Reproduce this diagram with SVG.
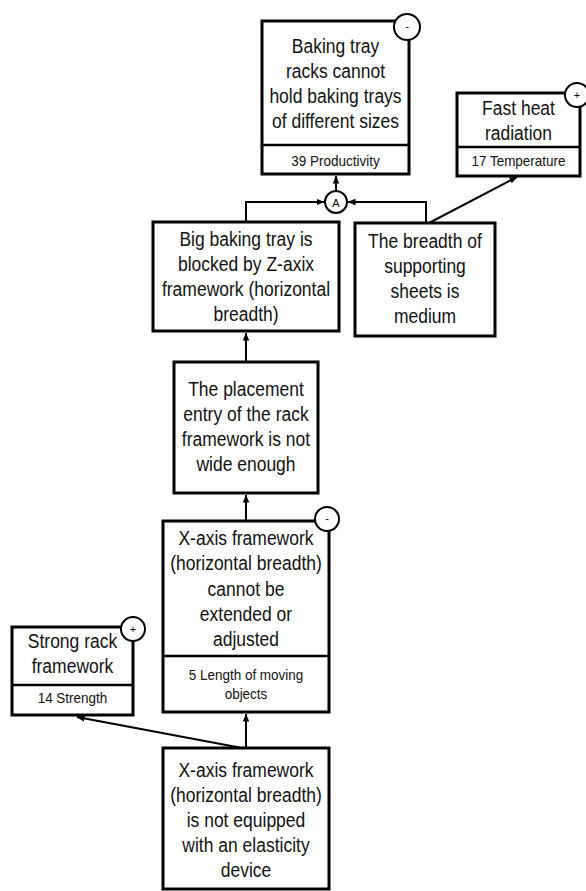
<svg xmlns="http://www.w3.org/2000/svg" width="586" height="891" viewBox="0 0 586 891">
  <style>
    .box { fill: #ffffff; stroke: #000000; stroke-width: 3; }
    .div { stroke: #000000; stroke-width: 2.5; }
    .tag { fill: #ffffff; stroke: #000000; stroke-width: 2; }
    .t { font-family: "Liberation Sans", Arial, sans-serif; font-size: 17.5px; fill: #111111; text-anchor: middle; }
    .s { font-family: "Liberation Sans", Arial, sans-serif; font-size: 13.5px; fill: #111111; text-anchor: middle; }
    .sym { font-family: "Liberation Sans", Arial, sans-serif; font-size: 11px; fill: #000000; text-anchor: middle; }
    .con { fill: none; stroke: #000000; stroke-width: 2; }
  </style>
  <defs>
    <marker id="arrow" viewBox="0 0 8 8" refX="7.5" refY="4" markerWidth="8" markerHeight="8" markerUnits="userSpaceOnUse" orient="auto">
      <path d="M0,0.8 L8,4 L0,7.2 Z" fill="#000000"/>
    </marker>
  </defs>
  <rect width="586" height="891" fill="#ffffff"/>

  <!-- connectors -->
  <g id="connectors">
    <line class="con" x1="336" y1="191" x2="336" y2="176" marker-end="url(#arrow)"/>
    <polyline class="con" points="246,222 246,202 324,202" marker-end="url(#arrow)"/>
    <polyline class="con" points="426,223 426,202 348,202" marker-end="url(#arrow)"/>
    <line class="con" x1="429" y1="223" x2="517" y2="177" marker-end="url(#arrow)"/>
    <line class="con" x1="246" y1="362" x2="246" y2="333" marker-end="url(#arrow)"/>
    <line class="con" x1="246" y1="521" x2="246" y2="495" marker-end="url(#arrow)"/>
    <line class="con" x1="246" y1="748" x2="246" y2="714" marker-end="url(#arrow)"/>
    <line class="con" x1="242" y1="748" x2="77" y2="717" marker-end="url(#arrow)"/>
    <circle class="tag" cx="336" cy="202" r="11"/>
    <text class="sym" x="336" y="206.5" font-size="12">A</text>
  </g>

  <!-- problem: tray racks -->
  <g id="node-tray-racks">
    <rect class="box" x="262" y="21" width="147" height="153"/>
    <line class="div" x1="262" y1="145" x2="409" y2="145"/>
    <text class="t" x="335.5" y="53" transform="matrix(1 0 0 1.15 0 -7.95)">Baking tray</text>
    <text class="t" x="335.5" y="78" transform="matrix(1 0 0 1.15 0 -11.7)">racks cannot</text>
    <text class="t" x="335.5" y="103" transform="matrix(1 0 0 1.15 0 -15.45)">hold baking trays</text>
    <text class="t" x="335.5" y="128" transform="matrix(1 0 0 1.15 0 -19.2)">of different sizes</text>
    <text class="s" x="335.5" y="166" transform="matrix(1 0 0 1.15 0 -24.9)">39 Productivity</text>
    <circle class="tag" cx="407" cy="27" r="13"/>
    <text class="sym" x="407" y="30">-</text>
  </g>

  <!-- benefit: heat radiation -->
  <g id="node-heat">
    <rect class="box" x="457" y="93" width="123" height="83"/>
    <line class="div" x1="457" y1="147" x2="580" y2="147"/>
    <text class="t" x="518.5" y="115" transform="matrix(1 0 0 1.15 0 -17.25)">Fast heat</text>
    <text class="t" x="518.5" y="140" transform="matrix(1 0 0 1.15 0 -21)">radiation</text>
    <text class="s" x="518.5" y="166" transform="matrix(1 0 0 1.15 0 -24.9)">17 Temperature</text>
    <circle class="tag" cx="577" cy="95" r="12"/>
    <text class="sym" x="577" y="99">+</text>
  </g>

  <!-- cause: blocked tray -->
  <g id="node-blocked">
    <rect class="box" x="153" y="222" width="186" height="109"/>
    <text class="t" x="246" y="246" transform="matrix(1 0 0 1.15 0 -36.9)">Big baking tray is</text>
    <text class="t" x="246" y="271" transform="matrix(1 0 0 1.15 0 -40.65)">blocked by Z-axix</text>
    <text class="t" x="246" y="296" transform="matrix(1 0 0 1.15 0 -44.4)">framework (horizontal</text>
    <text class="t" x="246" y="321" transform="matrix(1 0 0 1.15 0 -48.15)">breadth)</text>
  </g>

  <!-- cause: supporting sheets -->
  <g id="node-sheets">
    <rect class="box" x="355" y="223" width="140" height="113"/>
    <text class="t" x="425" y="248" transform="matrix(1 0 0 1.15 0 -37.2)">The breadth of</text>
    <text class="t" x="425" y="273" transform="matrix(1 0 0 1.15 0 -40.95)">supporting</text>
    <text class="t" x="425" y="298" transform="matrix(1 0 0 1.15 0 -44.7)">sheets is</text>
    <text class="t" x="425" y="323" transform="matrix(1 0 0 1.15 0 -48.45)">medium</text>
  </g>

  <!-- cause: placement entry -->
  <g id="node-entry">
    <rect class="box" x="174" y="362" width="144" height="131"/>
    <text class="t" x="246" y="396" transform="matrix(1 0 0 1.15 0 -59.4)">The placement</text>
    <text class="t" x="246" y="421" transform="matrix(1 0 0 1.15 0 -63.15)">entry of the rack</text>
    <text class="t" x="246" y="446" transform="matrix(1 0 0 1.15 0 -66.9)">framework is not</text>
    <text class="t" x="246" y="471" transform="matrix(1 0 0 1.15 0 -70.65)">wide enough</text>
  </g>

  <!-- problem: x-axis framework fixed -->
  <g id="node-xaxis">
    <rect class="box" x="163" y="521" width="166" height="191"/>
    <line class="div" x1="163" y1="656" x2="329" y2="656"/>
    <text class="t" x="246" y="545" transform="matrix(1 0 0 1.15 0 -81.75)">X-axis framework</text>
    <text class="t" x="246" y="570.5" transform="matrix(1 0 0 1.15 0 -85.575)">(horizontal breadth)</text>
    <text class="t" x="246" y="596" transform="matrix(1 0 0 1.15 0 -89.4)">cannot be</text>
    <text class="t" x="246" y="621" transform="matrix(1 0 0 1.15 0 -93.15)">extended or</text>
    <text class="t" x="246" y="646" transform="matrix(1 0 0 1.15 0 -96.9)">adjusted</text>
    <text class="s" x="246" y="680" transform="matrix(1 0 0 1.15 0 -102)">5 Length of moving</text>
    <text class="s" x="246" y="699" transform="matrix(1 0 0 1.15 0 -104.85)">objects</text>
    <circle class="tag" cx="327" cy="519" r="12"/>
    <text class="sym" x="327" y="522">-</text>
  </g>

  <!-- benefit: strong rack -->
  <g id="node-strong">
    <rect class="box" x="12" y="627" width="121" height="88"/>
    <line class="div" x1="12" y1="685" x2="133" y2="685"/>
    <text class="t" x="72.5" y="648" transform="matrix(1 0 0 1.15 0 -97.2)">Strong rack</text>
    <text class="t" x="72.5" y="673" transform="matrix(1 0 0 1.15 0 -100.95)">framework</text>
    <text class="s" x="72.5" y="703" transform="matrix(1 0 0 1.15 0 -105.45)">14 Strength</text>
    <circle class="tag" cx="133" cy="629" r="12"/>
    <text class="sym" x="133" y="633">+</text>
  </g>

  <!-- root cause: no elasticity device -->
  <g id="node-root">
    <rect class="box" x="163" y="748" width="166" height="141"/>
    <text class="t" x="246" y="777" transform="matrix(1 0 0 1.15 0 -116.55)">X-axis framework</text>
    <text class="t" x="246" y="802" transform="matrix(1 0 0 1.15 0 -120.3)">(horizontal breadth)</text>
    <text class="t" x="246" y="827" transform="matrix(1 0 0 1.15 0 -124.05)">is not equipped</text>
    <text class="t" x="246" y="852" transform="matrix(1 0 0 1.15 0 -127.8)">with an elasticity</text>
    <text class="t" x="246" y="877" transform="matrix(1 0 0 1.15 0 -131.55)">device</text>
  </g>
</svg>
